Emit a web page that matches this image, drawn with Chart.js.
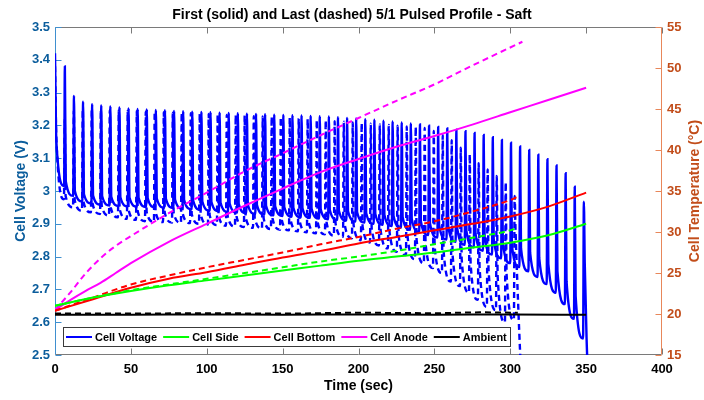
<!DOCTYPE html>
<html>
<head>
<meta charset="utf-8">
<script src="https://cdn.jsdelivr.net/npm/chart.js@4.4.1/dist/chart.umd.min.js"></script>
<style>
  html, body { margin: 0; padding: 0; background: #fff; }
</style>
</head>
<body>
<canvas id="chart" width="704" height="400"></canvas>
<script>
// ---- voltage, first profile (solid): one spike per pulse ----
const firstPulseTime = [0, 6, 12, 18, 24, 30, 36, 42, 48, 54, 60, 66, 72, 78, 84, 90, 96, 102, 108, 114,
  120, 126, 132, 138, 144, 150, 156, 162, 168, 174, 180, 186, 192, 198, 204, 210, 216, 222, 228, 234,
  240, 246, 252, 258, 264, 270, 276, 282, 288, 294, 300, 306, 312, 318, 324, 330, 336, 342, 348];
const firstPeakV = [3.42, 3.38, 3.29, 3.272, 3.265, 3.261, 3.258, 3.255, 3.252, 3.250, 3.249, 3.247, 3.246,
  3.244, 3.243, 3.242, 3.241, 3.240, 3.239, 3.238, 3.237, 3.236, 3.235, 3.234, 3.233, 3.232, 3.231, 3.230,
  3.229, 3.228, 3.227, 3.225, 3.223, 3.221, 3.219, 3.217, 3.214, 3.212, 3.209, 3.206, 3.203, 3.199, 3.195,
  3.191, 3.187, 3.182, 3.177, 3.171, 3.164, 3.156, 3.147, 3.136, 3.125, 3.111, 3.097, 3.078, 3.054, 3.013, 2.967];
// value right after the step down when discharge resumes
const firstKneeV = [3.15, 3.03, 3.00, 2.99, 2.986, 2.984, 2.982, 2.981, 2.980, 2.979, 2.978, 2.977, 2.976,
  2.974, 2.972, 2.970, 2.968, 2.966, 2.964, 2.962, 2.960, 2.958, 2.957, 2.955, 2.953, 2.951, 2.949, 2.947,
  2.946, 2.944, 2.942, 2.940, 2.938, 2.935, 2.932, 2.930, 2.927, 2.924, 2.920, 2.915, 2.908, 2.902, 2.897,
  2.892, 2.885, 2.878, 2.870, 2.861, 2.853, 2.842, 2.834, 2.825, 2.812, 2.796, 2.778, 2.755, 2.725, 2.680, 2.78];
// lowest value just before each following pulse
const firstTroughV = [3.015, 2.985, 2.968, 2.962, 2.958, 2.956, 2.954, 2.953, 2.952, 2.951, 2.950, 2.949,
  2.948, 2.946, 2.944, 2.942, 2.940, 2.938, 2.936, 2.934, 2.932, 2.930, 2.928, 2.926, 2.924, 2.922, 2.920,
  2.918, 2.916, 2.914, 2.912, 2.910, 2.907, 2.904, 2.900, 2.897, 2.893, 2.888, 2.882, 2.875, 2.866, 2.858,
  2.852, 2.845, 2.836, 2.828, 2.818, 2.806, 2.795, 2.780, 2.768, 2.755, 2.738, 2.716, 2.690, 2.655, 2.610, 2.550];
const firstTail = [[350.3, 2.55], [351.5, 2.40]];

// ---- voltage, last profile (dashed) ----
const lastPulseTime = [0, 5.9, 11.9, 17.8, 23.7, 29.7, 35.6, 41.5, 47.4, 53.4, 59.3, 65.2, 71.2, 77.1,
  83.0, 89.0, 94.9, 100.8, 106.7, 112.7, 118.6, 124.5, 130.5, 136.4, 142.3, 148.3, 154.2, 160.1, 166.0,
  172.0, 177.9, 183.8, 189.8, 195.7, 201.6, 207.6, 213.5, 219.4, 225.3, 231.3, 237.2, 243.1, 249.1, 255.0,
  260.9, 266.9, 272.8, 278.7, 284.6, 290.6, 296.5, 302.4];
const lastPeakV = [3.38, 3.22, 3.245, 3.248, 3.248, 3.247, 3.246, 3.245, 3.244, 3.243, 3.242, 3.241, 3.240,
  3.239, 3.238, 3.237, 3.236, 3.235, 3.234, 3.232, 3.231, 3.230, 3.228, 3.227, 3.226, 3.224, 3.223, 3.221,
  3.219, 3.217, 3.215, 3.213, 3.211, 3.209, 3.207, 3.205, 3.203, 3.201, 3.199, 3.197, 3.195, 3.192, 3.183,
  3.170, 3.155, 3.132, 3.112, 3.085, 3.066, 3.046, 3.026, 2.985];
const lastKneeV = [3.16, 2.985, 2.972, 2.965, 2.960, 2.955, 2.950, 2.945, 2.942, 2.938, 2.936, 2.935, 2.934,
  2.933, 2.932, 2.930, 2.929, 2.927, 2.925, 2.923, 2.921, 2.920, 2.918, 2.916, 2.915, 2.913, 2.911, 2.909,
  2.907, 2.905, 2.903, 2.900, 2.898, 2.895, 2.892, 2.886, 2.880, 2.873, 2.866, 2.858, 2.850, 2.840, 2.830,
  2.815, 2.805, 2.792, 2.778, 2.765, 2.760, 2.740, 2.745, 2.880];
const lastTroughV = [2.975, 2.950, 2.940, 2.935, 2.930, 2.925, 2.920, 2.915, 2.912, 2.908, 2.906, 2.905,
  2.904, 2.903, 2.902, 2.900, 2.898, 2.896, 2.894, 2.892, 2.890, 2.888, 2.886, 2.884, 2.882, 2.880, 2.877,
  2.874, 2.871, 2.868, 2.864, 2.860, 2.856, 2.850, 2.843, 2.834, 2.825, 2.815, 2.805, 2.792, 2.780, 2.765,
  2.750, 2.724, 2.710, 2.690, 2.668, 2.647, 2.637, 2.600, 2.607];
const lastTail = [[305.5, 2.62], [307.5, 2.40]];

// ---- temperatures (deg C) ----
const anodeTimeFirst = [0, 10, 20, 30, 40, 50, 75, 100, 125, 150, 175, 200, 225, 250, 275, 300, 325, 350];
const anodeFirst = [20.5, 21.7, 22.8, 23.8, 25.0, 26.2, 28.8, 31.0, 33.2, 35.3, 37.3, 38.9, 40.4, 41.7, 43.1, 44.6, 46.1, 47.6];
const anodeTimeLast = [0, 10, 20, 30, 40, 50, 75, 100, 125, 150, 175, 200, 225, 250, 275, 300, 308];
const anodeLast = [20.5, 22.6, 24.9, 26.8, 28.3, 29.5, 32.3, 34.8, 37.4, 39.6, 41.8, 43.9, 46.0, 48.0, 50.3, 52.5, 53.2];

const tempTimeFirst = [0, 25, 50, 75, 100, 125, 150, 175, 200, 225, 250, 275, 300, 325, 350];
const bottomFirst = [20.4, 21.8, 23.2, 24.3, 25.1, 26.0, 26.9, 27.7, 28.6, 29.4, 30.2, 31.0, 31.9, 33.1, 34.8];
const sideFirst = [21.0, 22.0, 22.8, 23.5, 24.1, 24.7, 25.3, 25.9, 26.5, 27.0, 27.5, 28.1, 28.7, 29.6, 31.0];

const bottomTimeLast = [0, 25, 50, 75, 100, 125, 150, 175, 200, 225, 250, 275, 300, 306];
const bottomLast = [20.4, 22.0, 23.6, 24.7, 25.7, 26.6, 27.5, 28.5, 29.4, 30.4, 31.3, 32.5, 33.9, 34.4];
const sideTimeLast = [0, 25, 50, 75, 100, 125, 150, 175, 200, 225, 250, 275, 300, 305];
const sideLast = [21.0, 22.0, 22.9, 23.6, 24.3, 25.0, 25.7, 26.4, 27.0, 27.7, 28.5, 29.3, 30.2, 30.5];

const ambTimeFirst = [0, 50, 100, 150, 200, 250, 300, 350];
const ambFirst = [19.9, 19.9, 19.95, 19.9, 19.95, 19.9, 19.95, 19.9];
const ambTimeLast = [0, 50, 100, 150, 200, 250, 280, 305];
const ambLast = [20.05, 20.05, 20.1, 20.05, 20.15, 20.1, 20.2, 20.15];

const leftBlue = '#0b5d9c';
const rightOrange = '#c24d1a';
const FONT = '"Liberation Sans", Arial, sans-serif';
Chart.defaults.font.family = FONT;

function pulseSeries(times, peaks, knees, troughs, tail) {
  const pts = [];
  times.forEach((t, k) => {
    if (k > 0) pts.push({ x: t, y: troughs[k - 1] });
    pts.push({ x: k > 0 ? t + 0.5 : t, y: peaks[k] });
    pts.push({ x: k > 0 ? t + 1.1 : t + 0.9, y: knees[k] });
  });
  tail.forEach(p => pts.push({ x: p[0], y: p[1] }));
  return pts;
}

function xy(xs, ys) {
  return xs.map((x, i) => ({ x: x, y: ys[i] }));
}

function tempSet(label, color, xs, ys, dashed) {
  return {
    label: label, data: xy(xs, ys), yAxisID: 'y1', borderColor: color, borderWidth: 2,
    borderDash: dashed ? [6, 4] : [], pointRadius: 0, cubicInterpolationMode: 'monotone',
    inLegend: false, order: 0
  };
}

const datasets = [
  {
    label: 'Cell Voltage', data: pulseSeries(firstPulseTime, firstPeakV, firstKneeV, firstTroughV, firstTail),
    yAxisID: 'y', borderColor: '#0000ff', borderWidth: 2.4, pointRadius: 0,
    cubicInterpolationMode: 'monotone', inLegend: true, order: 2
  },
  {
    label: 'Cell Voltage (last)', data: pulseSeries(lastPulseTime, lastPeakV, lastKneeV, lastTroughV, lastTail),
    yAxisID: 'y', borderColor: '#0000ff', borderWidth: 2.4, borderDash: [6, 4], pointRadius: 0,
    cubicInterpolationMode: 'monotone', inLegend: false, order: 1
  },
  Object.assign(tempSet('Cell Side', '#00ff00', tempTimeFirst, sideFirst, false), { inLegend: true }),
  tempSet('Cell Side (last)', '#00ff00', sideTimeLast, sideLast, true),
  Object.assign(tempSet('Cell Bottom', '#ff0000', tempTimeFirst, bottomFirst, false), { inLegend: true }),
  tempSet('Cell Bottom (last)', '#ff0000', bottomTimeLast, bottomLast, true),
  Object.assign(tempSet('Cell Anode', '#ff00ff', anodeTimeFirst, anodeFirst, false), { inLegend: true }),
  tempSet('Cell Anode (last)', '#ff00ff', anodeTimeLast, anodeLast, true),
  Object.assign(tempSet('Ambient', '#000000', ambTimeFirst, ambFirst, false), { inLegend: true }),
  tempSet('Ambient (last)', '#000000', ambTimeLast, ambLast, true)
];

// MATLAB style box: inward ticks, coloured y spines, right label read bottom-up
const frame = {
  id: 'frame',
  beforeDatasetsDraw(chart) {
    const { ctx, chartArea: a, scales } = chart;
    const L = Math.round(a.left) + 0.5, R = Math.round(a.right) - 0.5;
    const T = Math.round(a.top) + 0.5, B = Math.round(a.bottom) - 0.5;
    ctx.save();
    ctx.lineWidth = 1;
    ctx.strokeStyle = '#7a7a7a';
    ctx.beginPath();
    ctx.moveTo(L, T); ctx.lineTo(R, T);
    ctx.moveTo(L, B); ctx.lineTo(R, B);
    scales.x.ticks.forEach(t => {
      const px = Math.round(scales.x.getPixelForValue(t.value)) + 0.5;
      ctx.moveTo(px, B); ctx.lineTo(px, B - 6);
      ctx.moveTo(px, T); ctx.lineTo(px, T + 6);
    });
    ctx.stroke();

    ctx.strokeStyle = '#3f8fcf';
    ctx.beginPath();
    ctx.moveTo(L, T); ctx.lineTo(L, B);
    scales.y.ticks.forEach(t => {
      const py = Math.round(scales.y.getPixelForValue(t.value)) + 0.5;
      ctx.moveTo(L, py); ctx.lineTo(L + 6, py);
    });
    ctx.stroke();

    ctx.strokeStyle = '#e8875a';
    ctx.beginPath();
    ctx.moveTo(R, T); ctx.lineTo(R, B);
    scales.y1.ticks.forEach(t => {
      const py = Math.round(scales.y1.getPixelForValue(t.value)) + 0.5;
      ctx.moveTo(R, py); ctx.lineTo(R - 6, py);
    });
    ctx.stroke();

    ctx.translate(chart.width - 9, (a.top + a.bottom) / 2);
    ctx.rotate(-Math.PI / 2);
    ctx.font = 'bold 14px ' + FONT;
    ctx.fillStyle = rightOrange;
    ctx.textAlign = 'center';
    ctx.textBaseline = 'middle';
    ctx.fillText('Cell Temperature (°C)', 0, 0);
    ctx.restore();
  }
};

const insideLegend = {
  id: 'insideLegend',
  afterDraw(chart) {
    const { ctx, chartArea: a } = chart;
    const items = chart.data.datasets.filter(d => d.inLegend);
    const lineLen = 26, gapTxt = 3, gapItem = 6, padX = 3, h = 19;
    ctx.save();
    ctx.font = 'bold 11px ' + FONT;
    let w = 2 * padX - gapItem;
    items.forEach(d => { w += lineLen + gapTxt + ctx.measureText(d.label).width + gapItem; });
    const x0 = Math.round(a.left) + 8, y0 = Math.round(a.bottom) - 9 - h;
    ctx.fillStyle = '#fff';
    ctx.fillRect(x0, y0, w, h);
    ctx.strokeStyle = '#3a3a3a';
    ctx.lineWidth = 1;
    ctx.strokeRect(x0 + 0.5, y0 + 0.5, Math.round(w), h);
    let x = x0 + padX;
    const cy = y0 + h / 2 + 0.5;
    items.forEach(d => {
      ctx.strokeStyle = d.borderColor;
      ctx.lineWidth = 2;
      ctx.beginPath();
      ctx.moveTo(x, cy); ctx.lineTo(x + lineLen, cy);
      ctx.stroke();
      x += lineLen + gapTxt;
      ctx.fillStyle = '#000';
      ctx.textBaseline = 'middle';
      ctx.fillText(d.label, x, cy + 0.5);
      x += ctx.measureText(d.label).width + gapItem;
    });
    ctx.restore();
  }
};

const tickFont = { size: 13, weight: 'bold', family: FONT };
const titleFont = { size: 14, weight: 'bold', family: FONT };
const noGrid = { display: false, drawTicks: false };

new Chart(document.getElementById('chart'), {
  type: 'line',
  data: { datasets: datasets },
  plugins: [frame, insideLegend],
  options: {
    responsive: false,
    animation: false,
    layout: { padding: 0 },
    plugins: {
      legend: { display: false },
      tooltip: { enabled: false },
      title: {
        display: true,
        text: 'First (solid) and Last (dashed) 5/1 Pulsed Profile - Saft',
        color: '#000',
        font: { size: 14, weight: 'bold', family: FONT, lineHeight: '16px' },
        padding: { top: 7, bottom: 4 }
      }
    },
    scales: {
      x: {
        type: 'linear', min: 0, max: 400,
        ticks: { stepSize: 50, color: '#000', font: tickFont, padding: 7, maxRotation: 0 },
        grid: noGrid, border: { display: false },
        title: { display: true, text: 'Time (sec)', color: '#000', font: titleFont, padding: { top: 0, bottom: 5 } },
        afterFit(s) { s.height = 45; }
      },
      y: {
        type: 'linear', position: 'left', min: 2.5, max: 3.5,
        ticks: {
          stepSize: 0.1, color: leftBlue, font: tickFont, padding: 5,
          callback: v => String(Math.round(v * 10) / 10)
        },
        grid: noGrid, border: { display: false },
        title: { display: true, text: 'Cell Voltage (V)', color: leftBlue, font: titleFont, padding: { top: 12.5, bottom: 0 } },
        afterFit(s) { s.width = 55; }
      },
      y1: {
        type: 'linear', position: 'right', min: 15, max: 55,
        ticks: { stepSize: 5, color: rightOrange, font: tickFont, padding: 5 },
        grid: noGrid, border: { display: false },
        afterFit(s) { s.width = 42; }
      }
    }
  }
});
</script>
</body>
</html>
